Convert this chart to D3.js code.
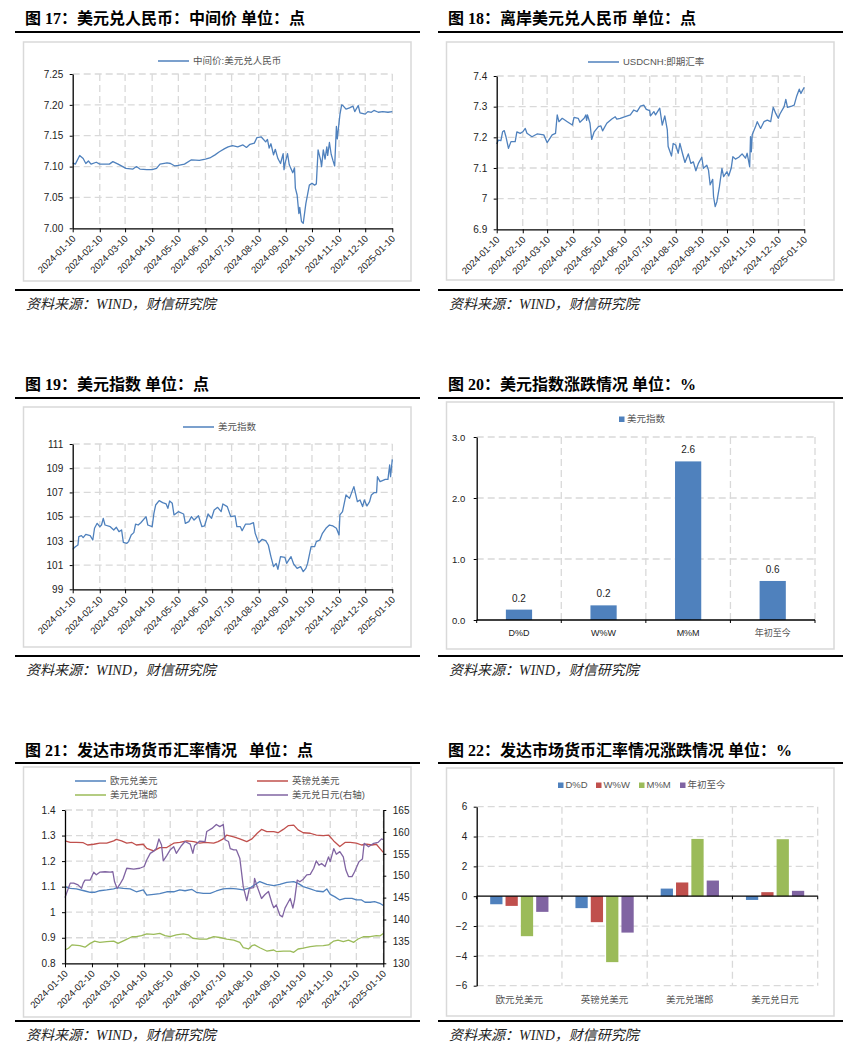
<!DOCTYPE html>
<html>
<head>
<meta charset="utf-8">
<script src="https://cdn.jsdelivr.net/npm/d3@7"></script>
<style>
  body { margin: 0; background: #fff; }
</style>
</head>
<body>
<svg id="page" width="859" height="1053"></svg>
<script>
// ---- data ----
var monthTicks = d3.range(13).map(function(i) { return new Date(2024, i, 10); });

var cnyMid = [["240110",7.106],["240113",7.104],["240118",7.118],["240122",7.113],["240125",7.105],["240128",7.109],["240131",7.104],["240206",7.107],["240210",7.104],["240221",7.104],["240225",7.108],["240302",7.104],["240311",7.097],["240319",7.096],["240323",7.100],["240327",7.096],["240404",7.095],["240410",7.095],["240415",7.097],["240419",7.104],["240427",7.106],["240501",7.105],["240506",7.101],["240510",7.102],["240517",7.104],["240525",7.111],["240603",7.110],["240610",7.112],["240615",7.114],["240621",7.119],["240626",7.124],["240702",7.129],["240706",7.132],["240711",7.134],["240717",7.132],["240723",7.135],["240727",7.131],["240731",7.136],["240805",7.138],["240808",7.147],["240813",7.148],["240818",7.140],["240820",7.144],["240822",7.130],["240824",7.137],["240827",7.119],["240829",7.128],["240901",7.113],["240904",7.105],["240907",7.121],["240908",7.095],["240909",7.104],["240912",7.121],["240914",7.103],["240918",7.090],["240920",7.098],["240921",7.065],["240923",7.054],["240925",7.024],["240926",7.034],["240928",7.011],["240930",7.008],["241003",7.040],["241007",7.070],["241010",7.073],["241013",7.070],["241015",7.072],["241017",7.127],["241020",7.110],["241021",7.100],["241023",7.127],["241025",7.112],["241027",7.132],["241028",7.118],["241030",7.139],["241101",7.120],["241103",7.110],["241105",7.101],["241107",7.165],["241108",7.145],["241111",7.184],["241113",7.200],["241115",7.198],["241118",7.193],["241122",7.195],["241126",7.198],["241128",7.189],["241202",7.199],["241204",7.187],["241210",7.185],["241213",7.189],["241217",7.188],["241220",7.191],["241225",7.188],["241230",7.189],["250105",7.188],["250110",7.189]];

var usdCnh = [["240110",7.178],["240112",7.191],["240115",7.189],["240117",7.218],["240119",7.222],["240121",7.202],["240124",7.164],["240127",7.186],["240201",7.186],["240203",7.218],["240207",7.213],["240210",7.218],["240213",7.229],["240215",7.213],["240221",7.202],["240227",7.211],["240306",7.208],["240310",7.183],["240316",7.208],["240320",7.213],["240322",7.273],["240324",7.251],["240328",7.262],["240403",7.251],["240409",7.240],["240411",7.265],["240416",7.262],["240418",7.249],["240423",7.262],["240425",7.273],["240426",7.255],["240427",7.273],["240430",7.246],["240502",7.193],["240505",7.218],["240510",7.235],["240513",7.237],["240515",7.221],["240520",7.246],["240526",7.260],["240530",7.267],["240601",7.259],["240605",7.262],["240610",7.267],["240617",7.273],["240621",7.289],["240625",7.284],["240629",7.302],["240703",7.305],["240706",7.291],["240710",7.287],["240711",7.270],["240715",7.284],["240717",7.273],["240722",7.295],["240725",7.240],["240728",7.270],["240731",7.224],["240801",7.170],["240805",7.139],["240807",7.180],["240810",7.175],["240813",7.148],["240815",7.180],["240818",7.148],["240821",7.118],["240825",7.146],["240828",7.115],["240831",7.120],["240903",7.091],["240906",7.115],["240910",7.135],["240912",7.099],["240916",7.109],["240918",7.093],["240920",7.045],["240923",7.063],["240924",7.007],["240926",6.974],["240928",6.990],["241001",7.039],["241004",7.099],["241006",7.072],["241010",7.088],["241012",7.074],["241015",7.099],["241017",7.137],["241020",7.129],["241024",7.135],["241028",7.146],["241101",7.132],["241103",7.148],["241106",7.104],["241107",7.202],["241108",7.153],["241109",7.208],["241113",7.235],["241115",7.251],["241119",7.229],["241123",7.251],["241127",7.256],["241201",7.251],["241204",7.298],["241207",7.278],["241210",7.262],["241212",7.276],["241217",7.300],["241219",7.324],["241221",7.298],["241226",7.302],["241229",7.305],["250101",7.335],["250104",7.357],["250106",7.343],["250108",7.354],["250110",7.363]];

var dxy = [["240110",102.30],["240113",102.52],["240116",102.66],["240117",103.35],["240120",103.43],["240122",103.27],["240125",103.54],["240130",103.43],["240202",103.07],["240204",104.04],["240207",104.45],["240210",104.17],["240212",104.31],["240214",104.86],["240216",104.31],["240222",104.17],["240226",103.90],["240229",104.12],["240303",103.76],["240306",103.90],["240308",102.88],["240312",102.80],["240314",102.94],["240317",103.49],["240320",103.68],["240322",104.39],["240325",104.31],["240328",104.50],["240403",105.00],["240405",104.31],["240410",104.17],["240412",105.27],["240414",105.96],["240418",106.32],["240422",106.16],["240426",106.05],["240428",105.69],["240430",106.29],["240503",106.10],["240505",105.14],["240510",105.41],["240516",105.22],["240518",104.45],["240522",104.59],["240525",105.00],["240528",104.72],["240602",105.08],["240606",104.17],["240609",104.23],["240613",105.22],["240617",104.86],["240620",105.55],["240624",105.77],["240628",105.41],["240630",106.05],["240705",105.83],["240709",105.00],["240714",105.06],["240716",104.17],["240720",104.17],["240722",103.84],["240726",104.39],["240731",104.39],["240804",104.50],["240806",103.62],["240810",102.85],["240814",103.13],["240818",103.02],["240821",102.66],["240824",101.70],["240827",100.87],["240830",101.14],["240901",100.65],["240904",101.70],["240909",101.64],["240911",101.14],["240913",101.37],["240916",101.70],["240919",101.09],["240923",100.73],["240927",100.87],["240930",100.46],["241003",100.73],["241005",101.14],["241009",102.52],["241013",102.52],["241015",102.94],["241019",103.07],["241022",103.62],["241026",104.04],["241030",104.31],["241103",104.23],["241107",104.04],["241110",103.49],["241111",105.14],["241114",105.41],["241118",106.79],["241122",106.51],["241127",107.48],["241201",106.24],["241204",106.38],["241207",105.83],["241209",106.38],["241212",105.88],["241215",106.24],["241217",106.79],["241220",106.98],["241223",106.98],["241224",108.30],["241227",107.89],["250102",108.08],["250105",108.08],["250107",109.27],["250108",108.30],["250110",109.73]];

var eurUsd = [["240110",1.100],["240116",1.093],["240123",1.091],["240202",1.083],["240208",1.078],["240213",1.078],["240219",1.084],["240227",1.087],["240306",1.091],["240310",1.096],["240317",1.093],["240325",1.091],["240401",1.080],["240409",1.087],["240413",1.067],["240421",1.070],["240428",1.073],["240506",1.080],["240514",1.080],["240521",1.087],["240527",1.084],["240604",1.089],["240609",1.078],["240617",1.074],["240625",1.074],["240702",1.083],["240710",1.091],["240718",1.093],["240725",1.091],["240802",1.087],["240810",1.096],["240815",1.107],["240821",1.120],["240829",1.109],["240906",1.104],["240913",1.109],["240921",1.117],["240929",1.120],["241004",1.113],["241010",1.100],["241018",1.091],["241025",1.083],["241102",1.080],["241106",1.091],["241110",1.070],["241115",1.061],["241121",1.048],["241127",1.054],["241205",1.054],["241210",1.048],["241216",1.048],["241220",1.039],["241226",1.039],["241231",1.041],["250106",1.035],["250110",1.026]];

var gbpUsd = [["240110",1.279],["240116",1.273],["240123",1.273],["240131",1.272],["240205",1.263],["240212",1.266],["240219",1.270],["240227",1.270],["240306",1.279],["240309",1.285],["240315",1.279],["240321",1.270],["240327",1.273],["240401",1.263],["240409",1.266],["240413",1.250],["240421",1.240],["240428",1.253],["240506",1.253],["240514",1.270],["240521",1.273],["240529",1.279],["240606",1.276],["240613",1.270],["240619",1.273],["240629",1.270],["240704",1.276],["240710",1.287],["240714",1.302],["240722",1.295],["240729",1.287],["240806",1.276],["240812",1.287],["240818",1.309],["240823",1.324],["240829",1.315],["240906",1.315],["240911",1.311],["240917",1.324],["240923",1.339],["240929",1.341],["241004",1.322],["241010",1.311],["241018",1.309],["241025",1.302],["241102",1.300],["241108",1.302],["241114",1.279],["241121",1.257],["241127",1.273],["241203",1.273],["241210",1.270],["241216",1.263],["241222",1.266],["241228",1.263],["250102",1.266],["250106",1.250],["250110",1.234]];

var usdChf = [["240110",0.852],["240114",0.859],["240118",0.872],["240127",0.869],["240202",0.863],["240208",0.878],["240213",0.887],["240219",0.882],["240227",0.885],["240306",0.887],["240311",0.878],["240319",0.891],["240327",0.904],["240401",0.904],["240407",0.908],["240413",0.915],["240421",0.913],["240428",0.917],["240504",0.908],["240510",0.904],["240517",0.911],["240525",0.915],["240531",0.911],["240605",0.898],["240613",0.895],["240621",0.895],["240629",0.904],["240706",0.901],["240714",0.895],["240722",0.891],["240729",0.882],["240802",0.861],["240808",0.856],["240812",0.869],["240815",0.872],["240821",0.861],["240829",0.848],["240906",0.852],["240909",0.846],["240917",0.848],["240925",0.848],["240929",0.843],["241004",0.856],["241010",0.859],["241018",0.865],["241025",0.868],["241102",0.869],["241108",0.872],["241114",0.887],["241119",0.891],["241125",0.885],["241201",0.891],["241207",0.882],["241212",0.895],["241218",0.904],["241226",0.904],["250102",0.908],["250106",0.907],["250110",0.917]];

var usdJpy = [["240110",145.0],["240116",148.3],["240120",148.3],["240125",147.9],["240129",147.1],["240131",148.3],["240202",149.0],["240208",149.0],["240212",150.8],["240215",150.2],["240219",150.8],["240225",150.9],["240302",150.8],["240305",150.9],["240307",148.6],["240310",147.1],["240313",148.0],["240317",149.4],["240321",151.7],["240329",151.5],["240405",151.7],["240410",152.1],["240413",153.6],["240417",155.1],["240421",155.6],["240424",156.2],["240427",158.4],["240430",157.0],["240502",153.4],["240506",154.6],["240510",155.9],["240514",156.6],["240517",155.1],["240523",156.9],["240527",157.8],["240602",157.2],["240605",155.1],["240607",156.9],["240613",157.9],["240619",157.8],["240621",160.1],["240627",160.8],["240702",161.7],["240706",161.2],["240710",161.7],["240712",158.2],["240716",157.8],["240718",156.2],["240722",155.9],["240725",155.9],["240729",154.0],["240802",147.5],["240806",144.3],["240809",147.1],["240814",147.3],["240815",149.4],["240818",147.5],["240823",144.8],["240827",145.7],["240831",146.4],["240904",143.7],["240906",142.7],["240909",143.3],["240913",141.0],["240916",140.6],["240919",142.6],["240922",143.7],["240925",144.8],["240928",142.6],["240930",144.5],["241003",149.0],["241006",148.6],["241010",149.2],["241014",150.2],["241018",150.3],["241022",151.7],["241025",153.4],["241028",152.4],["241031",152.8],["241104",152.1],["241108",154.3],["241110",153.2],["241114",156.2],["241117",154.9],["241121",155.5],["241125",154.3],["241128",151.3],["241201",149.8],["241205",149.8],["241208",150.9],["241213",153.2],["241217",153.8],["241219",157.4],["241224",156.6],["241230",157.4],["250104",157.6],["250108",158.4],["250110",158.2]];

var dxyChangeCats = ["D%D", "W%W", "M%M", "年初至今"];
var dxyChangeVals = [0.17, 0.24, 2.60, 0.64];

var fxCats = ["欧元兑美元", "英镑兑美元", "美元兑瑞郎", "美元兑日元"];
var fxKeys = ["D%D", "W%W", "M%M", "年初至今"];
var fxDD = [-0.54, -0.80, 0.51, -0.25];
var fxWW = [-0.65, -1.74, 0.92, 0.27];
var fxMM = [-2.68, -4.42, 3.84, 3.82];
var fxYTD = [-1.05, -2.44, 1.05, 0.36];

// ---- drawing ----
var svg = d3.select("#page");
var parseDay = d3.timeParse("%y%m%d");
var fmtDay = d3.timeFormat("%Y-%m-%d");
var FONT_NUM = "'Liberation Sans', Arial, 'Noto Sans CJK SC', sans-serif";
var FONT_TITLE = "'Liberation Serif', 'Noto Sans CJK SC', serif";
var GRID = "#d9d9d9";
var BLUE = "#4F81BD", RED = "#C0504D", GREEN = "#9BBB59", PURPLE = "#8064A2";

svg.append("rect").attr("width", 859).attr("height", 1053).attr("fill", "#fff");

function drawFrame(p) {
  var x0 = p.col == 0 ? 15 : 438;
  svg.append("text")
    .attr("x", x0 + 10).attr("y", p.titleY)
    .attr("font-family", FONT_TITLE).attr("font-weight", "bold").attr("font-size", "16px")
    .style("white-space", "pre")
    .text(p.title);
  svg.append("line")
    .attr("x1", x0).attr("x2", x0 + 405).attr("y1", p.lineY).attr("y2", p.lineY)
    .attr("stroke", "#000").attr("stroke-width", 2);
  svg.append("rect")
    .attr("x", x0 + 8.5).attr("y", p.box[0]).attr("width", 387.5).attr("height", p.box[1] - p.box[0])
    .attr("fill", "none").attr("stroke", GRID).attr("stroke-width", 1.5);
  svg.append("line")
    .attr("x1", x0).attr("x2", x0 + 405).attr("y1", p.bottomY).attr("y2", p.bottomY)
    .attr("stroke", "#000").attr("stroke-width", 2);
  svg.append("text")
    .attr("x", x0 + 11).attr("y", p.sourceY)
    .attr("font-family", FONT_TITLE).attr("font-style", "italic").attr("font-size", "14px")
    .attr("fill", "#222")
    .text("资料来源：WIND，财信研究院");
}

function drawGrid(g, xs, ys, plot) {
  g.selectAll(null).data(xs).enter().append("line")
    .attr("x1", function(d) { return d; }).attr("x2", function(d) { return d; })
    .attr("y1", plot[1]).attr("y2", plot[3])
    .attr("stroke", GRID).attr("stroke-width", 1.3).attr("stroke-dasharray", "7,4");
  g.selectAll(null).data(ys).enter().append("line")
    .attr("y1", function(d) { return d; }).attr("y2", function(d) { return d; })
    .attr("x1", plot[0]).attr("x2", plot[2])
    .attr("stroke", GRID).attr("stroke-width", 1.3).attr("stroke-dasharray", "7,4");
}

function styleAxis(sel, size) {
  sel.attr("font-family", FONT_NUM).attr("font-size", size || "10px");
  sel.select(".domain").attr("stroke", "#000").attr("stroke-width", 1.3);
  sel.selectAll(".tick line").attr("stroke", "#000");
  sel.selectAll(".tick text").attr("fill", "#222");
}

function drawLegendLines(items) {
  items.forEach(function(it) {
    svg.append("line")
      .attr("x1", it.x).attr("x2", it.x + 31).attr("y1", it.y).attr("y2", it.y)
      .attr("stroke", it.color).attr("stroke-width", 1.5);
    svg.append("text")
      .attr("x", it.x + 35).attr("y", it.y).attr("dy", "0.35em")
      .attr("font-family", FONT_NUM).attr("font-size", "9.5px").attr("fill", "#555")
      .text(it.name);
  });
}

function drawLineChart(p) {
  var g = svg.append("g");
  var x = d3.scaleTime().domain([monthTicks[0], monthTicks[12]]).range([p.plot[0], p.plot[2]]);
  var y = d3.scaleLinear().domain(d3.extent(p.yTicks)).range([p.plot[3], p.plot[1]]);
  var y2 = p.yTicks2 ? d3.scaleLinear().domain(d3.extent(p.yTicks2)).range([p.plot[3], p.plot[1]]) : null;

  drawGrid(g, monthTicks.slice(1).map(x), p.yTicks.slice(1).map(y), p.plot);

  p.series.forEach(function(s) {
    var ys = s.right ? y2 : y;
    g.append("path")
      .datum(s.data)
      .attr("fill", "none").attr("stroke", s.color).attr("stroke-width", 1.3)
      .attr("stroke-linejoin", "round")
      .attr("d", d3.line()
        .x(function(d) { return x(parseDay(d[0])); })
        .y(function(d) { return ys(d[1]); }));
  });

  var yAxis = g.append("g")
    .attr("transform", "translate(" + p.plot[0] + ",0)")
    .call(d3.axisLeft(y).tickValues(p.yTicks).tickFormat(p.yFormat)
      .tickSize(3).tickSizeOuter(0).tickPadding(6.5));
  styleAxis(yAxis);

  if (y2) {
    var yAxis2 = g.append("g")
      .attr("transform", "translate(" + p.plot[2] + ",0)")
      .call(d3.axisRight(y2).tickValues(p.yTicks2).tickFormat(d3.format("d"))
        .tickSize(3).tickSizeOuter(0).tickPadding(6.5));
    styleAxis(yAxis2);
  }

  var xAxis = g.append("g")
    .attr("transform", "translate(0," + p.plot[3] + ")")
    .call(d3.axisBottom(x).tickValues(monthTicks).tickFormat(fmtDay)
      .tickSize(4).tickSizeOuter(0));
  styleAxis(xAxis, "9.5px");
  xAxis.selectAll(".tick text")
    .attr("y", 0).attr("dy", 0)
    .attr("text-anchor", "end")
    .attr("transform", "translate(3,11) rotate(-45)");
}

function drawDxyBars(p) {
  var g = svg.append("g");
  var x = d3.scaleBand().domain(dxyChangeCats).range([p.plot[0], p.plot[2]]).padding(0);
  var y = d3.scaleLinear().domain([0, 3]).range([p.plot[3], p.plot[1]]);
  var ticks = [0, 1, 2, 3];
  var bounds = dxyChangeCats.map(function(c) { return x(c); }).concat([p.plot[2]]);

  drawGrid(g, bounds.slice(1), ticks.slice(1).map(y), p.plot);

  var barW = x.bandwidth() * 0.31;
  g.selectAll(".bar").data(dxyChangeVals).enter().append("rect")
    .attr("class", "bar")
    .attr("x", function(d, i) { return x(dxyChangeCats[i]) + (x.bandwidth() - barW) / 2; })
    .attr("width", barW)
    .attr("y", function(d) { return y(d); })
    .attr("height", function(d) { return y(0) - y(d); })
    .attr("fill", BLUE);

  g.selectAll(".val").data(dxyChangeVals).enter().append("text")
    .attr("x", function(d, i) { return x(dxyChangeCats[i]) + x.bandwidth() / 2; })
    .attr("y", function(d) { return y(d) - 8; })
    .attr("text-anchor", "middle")
    .attr("font-family", FONT_NUM).attr("font-size", "10px").attr("fill", "#222")
    .text(function(d) { return d3.format(".1f")(d); });

  var yAxis = g.append("g")
    .attr("transform", "translate(" + p.plot[0] + ",0)")
    .call(d3.axisLeft(y).tickValues(ticks).tickFormat(d3.format(".1f"))
      .tickSize(3).tickSizeOuter(0).tickPadding(8.5));
  styleAxis(yAxis, "9.5px");

  g.append("line")
    .attr("x1", p.plot[0]).attr("x2", p.plot[2]).attr("y1", y(0)).attr("y2", y(0))
    .attr("stroke", "#000").attr("stroke-width", 1.3);
  g.selectAll(".btick").data(bounds).enter().append("line")
    .attr("x1", function(d) { return d; }).attr("x2", function(d) { return d; })
    .attr("y1", y(0)).attr("y2", y(0) + 3)
    .attr("stroke", "#000");

  g.selectAll(".cat").data(dxyChangeCats).enter().append("text")
    .attr("x", function(d) { return x(d) + x.bandwidth() / 2; })
    .attr("y", p.plot[3] + 13).attr("dy", "0.35em")
    .attr("text-anchor", "middle")
    .attr("font-family", FONT_NUM).attr("font-size", "9px")
    .attr("fill", function(d, i) { return i == 3 ? "#555" : "#222"; })
    .text(function(d) { return d; });

  svg.append("rect").attr("x", 619).attr("y", 416.5).attr("width", 5.5).attr("height", 5.5).attr("fill", BLUE);
  svg.append("text").attr("x", 627).attr("y", 419).attr("dy", "0.35em")
    .attr("font-family", FONT_NUM).attr("font-size", "9.5px").attr("fill", "#555")
    .text("美元指数");
}

function drawFxBars(p) {
  var g = svg.append("g");
  var series = [fxDD, fxWW, fxMM, fxYTD];
  var colors = [BLUE, RED, GREEN, PURPLE];
  var x0 = d3.scaleBand().domain(fxCats).range([p.plot[0], p.plot[2]]).padding(0);
  var x1 = d3.scaleBand().domain(fxKeys).range([0, x0.bandwidth()]).paddingInner(0.2).paddingOuter(0.88);
  var y = d3.scaleLinear().domain([-6, 6]).range([p.plot[3], p.plot[1]]);
  var ticks = [-6, -4, -2, 0, 2, 4, 6];
  var bounds = fxCats.map(function(c) { return x0(c); }).concat([p.plot[2]]);

  drawGrid(g, bounds.slice(1), ticks.filter(function(t) { return t != 0; }).map(y), p.plot);

  var cells = [];
  fxCats.forEach(function(c, i) {
    fxKeys.forEach(function(k, j) {
      cells.push({ cat: c, key: k, value: series[j][i], color: colors[j] });
    });
  });
  g.selectAll(".bar").data(cells).enter().append("rect")
    .attr("class", "bar")
    .attr("x", function(d) { return x0(d.cat) + x1(d.key); })
    .attr("width", x1.bandwidth())
    .attr("y", function(d) { return y(Math.max(0, d.value)); })
    .attr("height", function(d) { return Math.abs(y(d.value) - y(0)); })
    .attr("fill", function(d) { return d.color; });

  var yAxis = g.append("g")
    .attr("transform", "translate(" + p.plot[0] + ",0)")
    .call(d3.axisLeft(y).tickValues(ticks).tickFormat(d3.format("d"))
      .tickSize(3).tickSizeOuter(0).tickPadding(6.5));
  styleAxis(yAxis);

  g.append("line")
    .attr("x1", p.plot[0]).attr("x2", p.plot[2]).attr("y1", y(0)).attr("y2", y(0))
    .attr("stroke", "#000").attr("stroke-width", 1.3);
  g.selectAll(".btick").data(bounds).enter().append("line")
    .attr("x1", function(d) { return d; }).attr("x2", function(d) { return d; })
    .attr("y1", y(0)).attr("y2", y(0) + 3)
    .attr("stroke", "#000");

  g.selectAll(".cat").data(fxCats).enter().append("text")
    .attr("x", function(d) { return x0(d) + x0.bandwidth() / 2; })
    .attr("y", p.plot[3] + 14).attr("dy", "0.35em")
    .attr("text-anchor", "middle")
    .attr("font-family", FONT_NUM).attr("font-size", "9.5px").attr("fill", "#555")
    .text(function(d) { return d; });

  var legendX = [558, 596, 639, 680];
  fxKeys.forEach(function(k, j) {
    svg.append("rect").attr("x", legendX[j]).attr("y", 782.5).attr("width", 5.5).attr("height", 5.5)
      .attr("fill", colors[j]);
    svg.append("text").attr("x", legendX[j] + 7.5).attr("y", 785).attr("dy", "0.35em")
      .attr("font-family", FONT_NUM).attr("font-size", "9.5px").attr("fill", "#555")
      .text(k);
  });
}

// ---- panels ----
drawFrame({ col: 0, title: "图 17：美元兑人民币：中间价 单位：点", titleY: 24, lineY: 32, box: [42, 281], bottomY: 290, sourceY: 309 });
drawLineChart({
  plot: [72.7, 74, 392.3, 228.3],
  yTicks: [7.00, 7.05, 7.10, 7.15, 7.20, 7.25], yFormat: d3.format(".2f"),
  series: [{ data: cnyMid, color: BLUE }]
});
drawLegendLines([{ x: 158, y: 61, color: BLUE, name: "中间价:美元兑人民币" }]);

drawFrame({ col: 1, title: "图 18：离岸美元兑人民币 单位：点", titleY: 24, lineY: 32, box: [42, 280], bottomY: 290, sourceY: 309 });
drawLineChart({
  plot: [496.7, 76, 804.3, 229.3],
  yTicks: [6.9, 7.0, 7.1, 7.2, 7.3, 7.4], yFormat: function(d) { return String(+d.toFixed(1)); },
  series: [{ data: usdCnh, color: BLUE }]
});
drawLegendLines([{ x: 588, y: 62, color: BLUE, name: "USDCNH:即期汇率" }]);

drawFrame({ col: 0, title: "图 19：美元指数 单位：点", titleY: 390, lineY: 398, box: [407, 647], bottomY: 656, sourceY: 675 });
drawLineChart({
  plot: [72.7, 444, 392.3, 589.3],
  yTicks: [99, 101, 103, 105, 107, 109, 111], yFormat: d3.format("d"),
  series: [{ data: dxy, color: BLUE }]
});
drawLegendLines([{ x: 183, y: 427, color: BLUE, name: "美元指数" }]);

drawFrame({ col: 1, title: "图 20：美元指数涨跌情况 单位：%", titleY: 390, lineY: 398, box: [402, 649], bottomY: 656, sourceY: 675 });
drawDxyBars({ plot: [476.7, 437, 815, 620] });

drawFrame({ col: 0, title: "图 21：发达市场货币汇率情况   单位：点", titleY: 756, lineY: 763, box: [767, 1017], bottomY: 1021, sourceY: 1040 });
drawLineChart({
  plot: [65, 810, 383.3, 963.3],
  yTicks: [0.8, 0.9, 1.0, 1.1, 1.2, 1.3, 1.4], yFormat: function(d) { return String(+d.toFixed(1)); },
  yTicks2: [130, 135, 140, 145, 150, 155, 160, 165],
  series: [
    { data: usdChf, color: GREEN },
    { data: eurUsd, color: BLUE },
    { data: gbpUsd, color: RED },
    { data: usdJpy, color: PURPLE, right: true }
  ]
});
drawLegendLines([
  { x: 75, y: 781, color: BLUE, name: "欧元兑美元" },
  { x: 257, y: 781, color: RED, name: "英镑兑美元" },
  { x: 75, y: 795, color: GREEN, name: "美元兑瑞郎" },
  { x: 257, y: 795, color: PURPLE, name: "美元兑日元(右轴)" }
]);

drawFrame({ col: 1, title: "图 22：发达市场货币汇率情况涨跌情况 单位：%", titleY: 756, lineY: 763, box: [768, 1016], bottomY: 1021, sourceY: 1040 });
drawFxBars({ plot: [476.7, 806.7, 817.7, 985.7] });
</script>
</body>
</html>
